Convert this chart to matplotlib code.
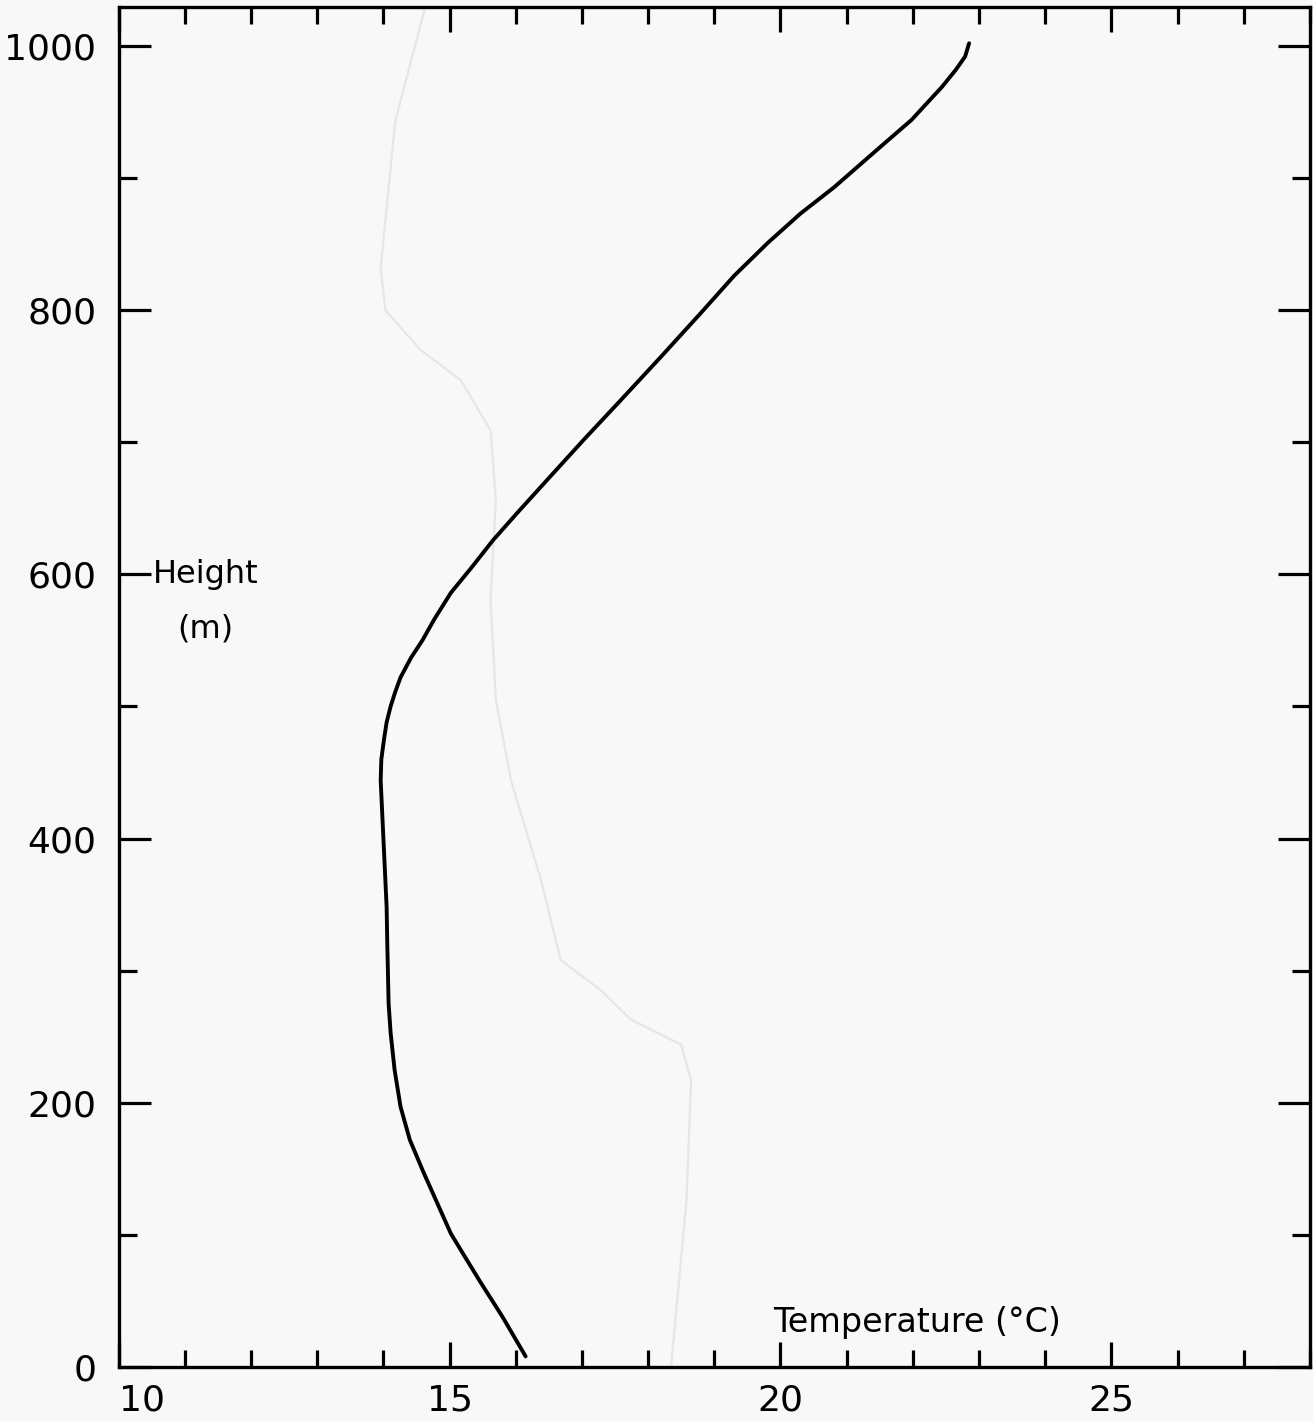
import numpy as np
import matplotlib.pyplot as plt
from matplotlib.ticker import MultipleLocator

# temperature profile (deg C) vs height (m)
temp = [16.15, 15.80, 15.47, 15.25, 15.02, 14.61, 14.40, 14.26, 14.17, 14.11,
        14.08, 14.06, 14.05, 14.02, 13.99, 13.96, 13.97, 14.01, 14.05, 14.11,
        14.18, 14.26, 14.42, 14.59, 14.77, 15.02, 15.33, 15.66, 16.05, 16.43,
        17.03, 17.59, 18.20, 18.80, 19.30, 19.81, 20.30, 20.81, 21.45, 21.98,
        22.44, 22.65, 22.79, 22.85]
height = [8, 38, 64, 82, 101, 147, 172, 197, 225, 253,
          275, 320, 348, 380, 412, 444, 460, 475, 488, 500,
          511, 522, 537, 550, 566, 586, 605, 626, 648, 669,
          702, 732, 765, 798, 826, 851, 873, 893, 921, 944,
          969, 982, 992, 1002]

# faint bleed-through curve from the reverse of the page
ghost_temp = [18.35, 18.58, 18.65, 18.50, 17.74, 17.29, 16.68, 16.38, 15.93, 15.70,
              15.62, 15.70, 15.62, 15.17, 14.56, 14.03, 13.96, 14.18, 14.64]
ghost_height = [2, 126, 217, 244, 263, 285, 308, 369, 444, 505,
                581, 656, 709, 747, 770, 800, 832, 943, 1031]

xticks = [10, 15, 20, 25]
yticks = [0, 200, 400, 600, 800, 1000]

bg = '#f8f8f8'
fig = plt.figure(figsize=(13.13, 14.22), dpi=100, facecolor=bg)
ax = fig.add_axes([0.0903, 0.0387, 0.9074, 0.9564], facecolor=bg)

ax.plot(ghost_temp, ghost_height, color='#e6e6e6', lw=1.6, zorder=1)
ax.plot(temp, height, color='black', lw=2.8, solid_capstyle='round',
        solid_joinstyle='round', zorder=3)

ax.set_xlim(10, 28)
ax.set_ylim(0, 1029.5)

ax.set_xticks(xticks)
ax.set_yticks(yticks)
ax.xaxis.set_minor_locator(MultipleLocator(1))
ax.yaxis.set_minor_locator(MultipleLocator(100))

for s in ax.spines.values():
    s.set_linewidth(2.4)

ax.tick_params(axis='x', which='major', direction='in', length=18, width=2.3,
               top=True, bottom=True, labelsize=26, pad=12)
ax.tick_params(axis='x', which='minor', direction='in', length=12, width=2.3,
               top=True, bottom=True)
ax.tick_params(axis='y', which='major', direction='in', length=23, width=2.3,
               left=True, right=True, labelsize=26, pad=16)
ax.tick_params(axis='y', which='minor', direction='in', length=13, width=2.3,
               left=True, right=True)

fig.canvas.draw()
ax.get_xticklabels()[0].set_horizontalalignment('left')

ax.text(10.52, 600, 'Height', fontsize=23, ha='left', va='center')
ax.text(11.31, 559, '(m)', fontsize=23, ha='center', va='center')
ax.text(22.06, 34, 'Temperature (°C)', fontsize=24, ha='center', va='center')

fig.savefig('out.png', dpi=100, facecolor=bg)
